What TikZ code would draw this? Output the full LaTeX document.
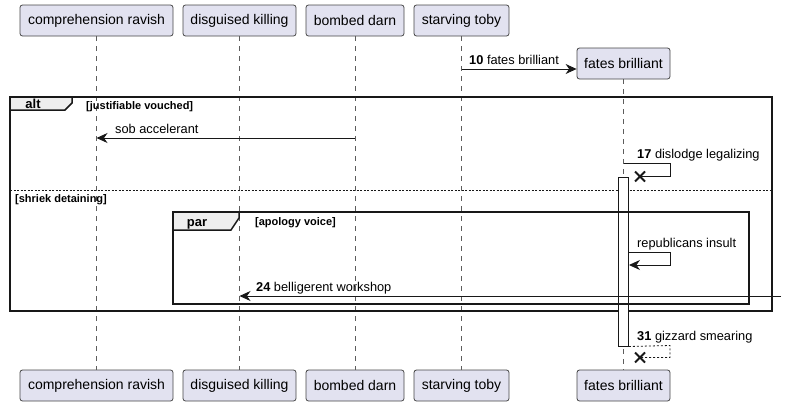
\documentclass[tikz,border=0pt]{standalone}
\usepackage{fontspec}
\setmainfont{Liberation Sans}
\usetikzlibrary{arrows.meta,calc}
\definecolor{partfill}{HTML}{E2E2F0}
\definecolor{ink}{HTML}{181818}
\definecolor{tabfill}{HTML}{EEEEEE}
\tikzset{
  part/.style={draw=ink!80, fill=partfill, rounded corners=2.5pt, minimum height=31pt, inner sep=0pt, font=\fontsize{14}{16}\selectfont, line width=0.8pt},
  life/.style={draw=ink!70, dash pattern=on 5pt off 5pt, line width=0.6pt},
  msg/.style={draw=ink, line width=1pt, -{Stealth[length=11pt,width=10pt,inset=3.5pt]}},
  msgx/.style={draw=ink, line width=1pt},
  dmsg/.style={draw=ink, line width=0.8pt, dash pattern=on 2pt off 2pt},
  lbl/.style={anchor=base west, inner sep=0pt, font=\fontsize{12.8}{15}\selectfont},
  frm/.style={draw=ink, line width=1.5pt},
  guard/.style={anchor=base west, inner sep=0pt, font=\bfseries\fontsize{11}{13}\selectfont},
  tabtxt/.style={anchor=base, inner sep=0pt, font=\bfseries\fontsize{13}{15}\selectfont},
  actbar/.style={draw=ink, fill=white, line width=0.8pt},
  xmark/.style={draw=ink, line width=1.8pt}
}
\begin{document}
\begin{tikzpicture}[x=1pt,y=-1pt]
\useasboundingbox (0,0) rectangle (786,407);
% participants
\node[part, minimum width=153pt] (t1) at (96.5,20.5) {comprehension ravish};
\node[part, minimum width=113pt] (t2) at (239.5,20.5) {disguised killing};
\node[part, minimum width=98pt] (t3) at (355,20.5) {bombed darn};
\node[part, minimum width=95pt] (t4) at (461.5,20.5) {starving toby};
\node[part, minimum width=93pt] (t5) at (623.5,63.5) {fates brilliant};
\node[part, minimum width=153pt] (b1) at (96.5,385.5) {comprehension ravish};
\node[part, minimum width=113pt] (b2) at (239.5,385.5) {disguised killing};
\node[part, minimum width=98pt] (b3) at (355,385.5) {bombed darn};
\node[part, minimum width=95pt] (b4) at (461.5,385.5) {starving toby};
\node[part, minimum width=93pt] (b5) at (623.5,385.5) {fates brilliant};
% lifelines
\draw[life] (t1.south) -- (b1.north);
\draw[life] (t2.south) -- (b2.north);
\draw[life] (t3.south) -- (b3.north);
\draw[life] (t4.south) -- (b4.north);
\draw[life] (t5.south) -- (b5.north);
% message 10
\coordinate (m10a) at (t4.south |- 0,69);
\draw[msg] (m10a) -- (t5.west |- m10a);
\node[lbl] at (469,64.5) {\textbf{10} fates brilliant};
% alt frame
\draw[frm] (10,97) rectangle (772,311);
\draw[frm, fill=tabfill] (10,97) -- (72,97) -- (72,103) -- (65,110) -- (10,110) -- cycle;
\node[tabtxt] at (33,108) {alt};
\node[guard] at (86,109) {[justifiable vouched]};
% sob accelerant
\coordinate (s1) at (t3.south |- 0,138);
\draw[msg] (s1) -- (t1.south |- s1);
\node[lbl] at (115,133) {sob accelerant};
% 17 dislodge legalizing
\coordinate (d1) at (t5.south |- 0,163);
\coordinate (d2) at (670,163);
\coordinate (d3) at (670,176.5);
\coordinate (dx) at (640,176.5);
\draw[msgx] (d1) -- (d2) -- (d3) -- (dx);
\draw[xmark] ($(dx)+(-5,-5)$) -- ($(dx)+(5,5)$) (dx) ++(-5,5) -- ++(10,-10);
\node[lbl] at (637,158) {\textbf{17} dislodge legalizing};
% separator
\draw[ink, line width=0.7pt, dash pattern=on 2pt off 1.5pt] (10,190) -- (772,190);
\node[guard] at (15,202) {[shriek detaining]};
% activation bar
\node[actbar, minimum width=10.5pt, minimum height=169pt, inner sep=0pt, anchor=north] (act) at (623.3,176.7) {};
% par frame
\draw[frm] (173,212) rectangle (749,304);
\draw[frm, fill=tabfill] (173,212) -- (239,212) -- (239,218) -- (231,230) -- (173,230) -- cycle;
\node[tabtxt] at (197,226) {par};
\node[guard] at (255,225) {[apology voice]};
% republicans insult
\coordinate (r1) at (act.east |- 0,252);
\coordinate (r2) at (670,252);
\coordinate (r3) at (670,265);
\draw[msg] (r1) -- (r2) -- (r3) -- (act.east |- r3);
\node[lbl] at (637,247.5) {republicans insult};
% 24 belligerent workshop
\coordinate (w1) at (781,296);
\draw[msg] (w1) -- (t2.south |- w1);
\node[lbl] at (256,291.5) {\textbf{24} belligerent workshop};
% 31 gizzard smearing
\coordinate (g1) at (act.south east);
\coordinate (g2) at (670,345.5);
\coordinate (g3) at (670,357.5);
\coordinate (gx) at (640,357.5);
\draw[dmsg] (g1) -- (g2) -- (g3) -- (gx);
\draw[xmark] ($(gx)+(-5,-5)$) -- ($(gx)+(5,5)$) (gx) ++(-5,5) -- ++(10,-10);
\node[lbl] at (637,340.5) {\textbf{31} gizzard smearing};
\end{tikzpicture}
\end{document}
